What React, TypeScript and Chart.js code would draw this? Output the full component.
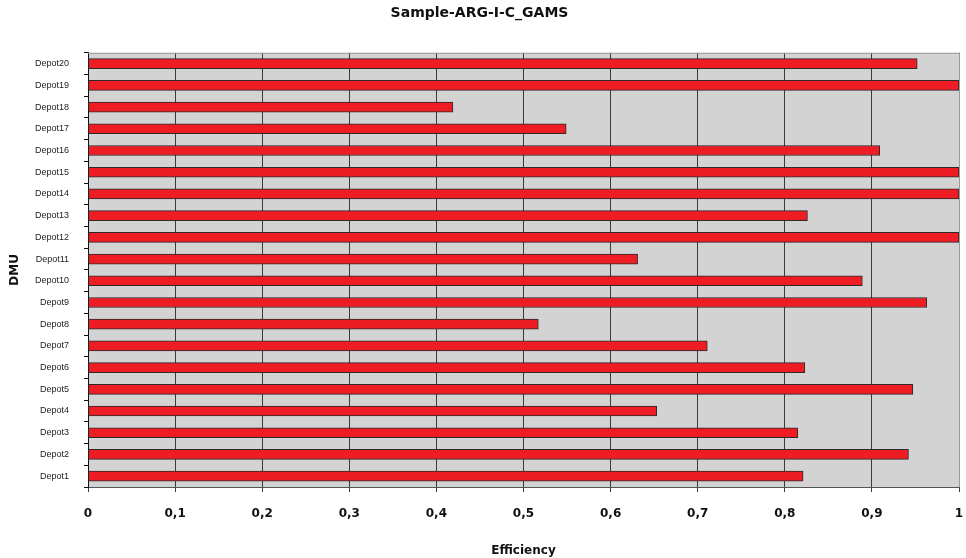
import React, { useEffect, useRef } from "react";
import { Chart, registerables } from "chart.js";

Chart.register(...registerables);

const categories = [
  "Depot1", "Depot2", "Depot3", "Depot4", "Depot5", "Depot6", "Depot7", "Depot8", "Depot9", "Depot10",
  "Depot11", "Depot12", "Depot13", "Depot14", "Depot15", "Depot16", "Depot17", "Depot18", "Depot19", "Depot20",
];
const efficiency = [
  0.821, 0.942, 0.815, 0.653, 0.947, 0.823, 0.711, 0.517, 0.963, 0.889,
  0.631, 1.0, 0.826, 1.0, 1.0, 0.909, 0.549, 0.419, 1.0, 0.952,
];
const titleText = "Sample-ARG-I-C_GAMS";
const xTitle = "Efficiency";
const yTitle = "DMU";

const plotBg = {
  id: "plotBg",
  beforeDraw(chart: any) {
    const { ctx, chartArea: a } = chart;
    ctx.save();
    ctx.fillStyle = "#d3d3d3";
    ctx.fillRect(a.left, a.top, a.right - a.left, a.bottom - a.top);
    ctx.restore();
  },
  afterDatasetsDraw(chart: any) {
    const { ctx, chartArea: a } = chart;
    ctx.save();
    ctx.strokeStyle = "#9a9a9a";
    ctx.lineWidth = 1;
    ctx.beginPath();
    ctx.moveTo(a.left, a.top + 0.5);
    ctx.lineTo(a.right + 0.5, a.top + 0.5);
    ctx.lineTo(a.right + 0.5, a.bottom);
    ctx.stroke();
    ctx.restore();
  },
};

export default function App() {
  const ref = useRef<HTMLCanvasElement>(null);
  useEffect(() => {
    document.body.style.margin = "0";
    const chart = new Chart(ref.current as HTMLCanvasElement, {
      type: "bar",
      data: {
        labels: categories,
        datasets: [
          {
            data: efficiency,
            backgroundColor: "#ee1d24",
            borderColor: "#2a2a2a",
            borderWidth: 1,
            borderSkipped: false,
            barThickness: 10,
          },
        ],
      },
      options: {
        indexAxis: "y",
        responsive: false,
        animation: false,
        layout: { padding: { left: 0, right: 7, top: 0, bottom: 0 } },
        plugins: {
          legend: { display: false },
          tooltip: { enabled: false },
          title: {
            display: true,
            text: titleText,
            color: "#111",
            font: { family: "DejaVu Sans", size: 14, weight: "bold" },
            padding: { top: 5, bottom: 31 },
          },
        },
        scales: {
          x: {
            min: 0,
            max: 1,
            afterFit(scale: any) {
              scale.height = 71;
              scale.paddingLeft = 0;
              scale.paddingRight = 0;
            },
            ticks: {
              stepSize: 0.1,
              color: "#111",
              padding: 15,
              maxRotation: 0,
              font: { family: "DejaVu Sans", size: 12, weight: "bold" },
              callback: (v: any) => {
                const n = Number(v);
                if (n === 0 || n === 1) return String(n);
                return n.toFixed(1).replace(".", ",");
              },
            },
            grid: { color: "#3a3a3a", lineWidth: 1, tickLength: 5, drawOnChartArea: true },
            border: { display: true, color: "#555" },
            title: {
              display: true,
              text: xTitle,
              color: "#111",
              font: { family: "DejaVu Sans", size: 12, weight: "bold" },
              padding: { top: 2, bottom: 0 },
            },
          },
          y: {
            reverse: true,
            afterFit(scale: any) {
              scale.width = 88;
              scale.paddingTop = 0;
              scale.paddingBottom = 0;
            },
            ticks: {
              color: "#222",
              padding: 15,
              font: { family: "Liberation Sans", size: 9 },
            },
            grid: { drawOnChartArea: false, tickLength: 4, color: "#111", offset: true },
            border: { display: true, color: "#111" },
            title: {
              display: true,
              text: yTitle,
              color: "#111",
              font: { family: "DejaVu Sans", size: 12, weight: "bold" },
              padding: { top: 8, bottom: 0 },
            },
          },
        },
      },
      plugins: [plotBg],
    });
    return () => chart.destroy();
  }, []);
  return <canvas ref={ref} width={966} height={558} style={{ display: "block" }} />;
}
